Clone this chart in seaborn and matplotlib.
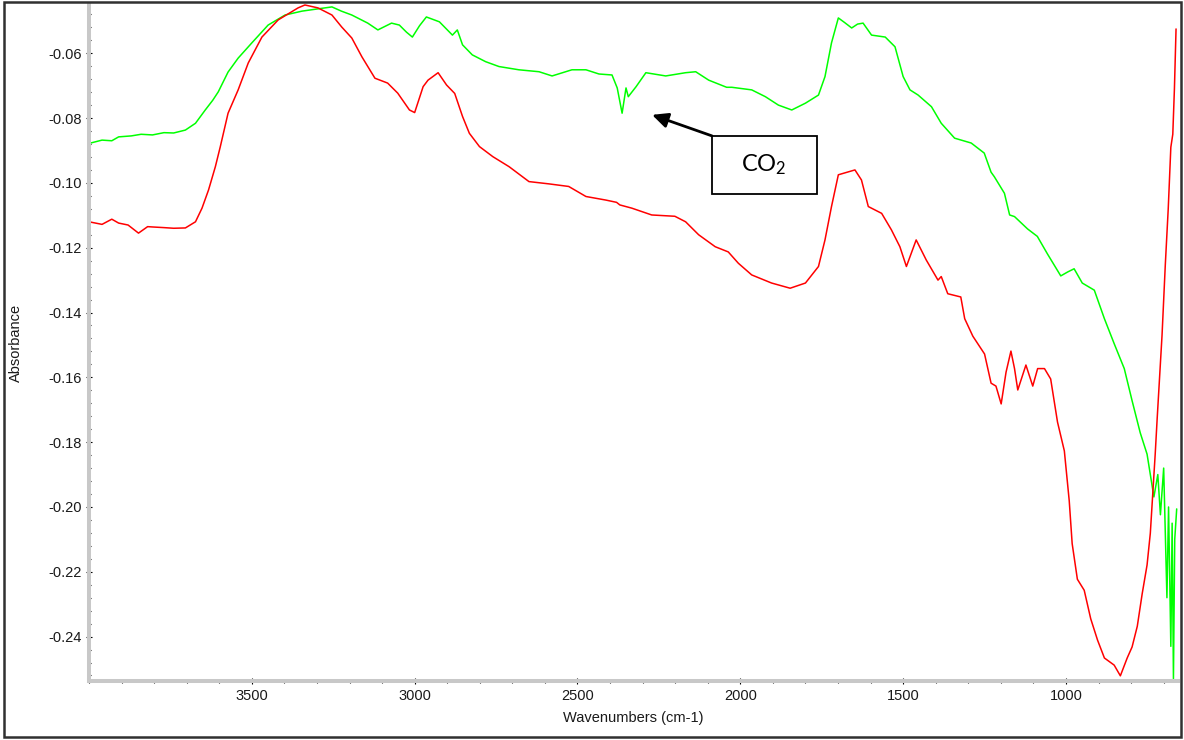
import matplotlib
matplotlib.use("Agg")
import matplotlib.pyplot as plt
import seaborn as sns
from matplotlib.ticker import FixedLocator, MultipleLocator, FormatStrFormatter
from matplotlib.patches import Rectangle

# ---------------- data ----------------
green_wn = [3995, 3960, 3930, 3909, 3870, 3840, 3805, 3770, 3740, 3704, 3673, 3643,
            3620, 3603, 3573, 3542, 3500, 3450, 3398, 3346, 3297, 3254, 3225, 3193,
            3144, 3113, 3071, 3047, 3025, 3007, 2985, 2964, 2924, 2884, 2869, 2853,
            2823, 2782, 2741, 2680, 2618, 2578, 2517, 2474, 2434, 2394, 2378, 2363,
            2351, 2344, 2320, 2290, 2229, 2168, 2137, 2097, 2042, 2026, 1965, 1923,
            1883, 1842, 1800, 1760, 1740, 1720, 1699, 1680, 1658, 1640, 1623, 1597,
            1555, 1525, 1500, 1479, 1454, 1413, 1383, 1342, 1291, 1251, 1230, 1220,
            1189, 1173, 1158, 1118, 1088, 1057, 1016, 995, 975, 950, 913, 882, 852,
            821, 797, 772, 751, 730, 718, 710, 700, 695, 690, 685, 678, 674, 670,
            666, 660]
green_abs = [-0.0877, -0.0868, -0.0870, -0.0858, -0.0855, -0.0850, -0.0852, -0.0845,
             -0.0846, -0.0837, -0.0816, -0.0775, -0.0745, -0.0719, -0.0658, -0.0615,
             -0.0568, -0.0513, -0.0482, -0.0470, -0.0463, -0.0457, -0.0470, -0.0482,
             -0.0507, -0.0528, -0.0507, -0.0513, -0.0535, -0.0550, -0.0515, -0.0488,
             -0.0503, -0.0544, -0.0528, -0.0574, -0.0605, -0.0626, -0.0641, -0.0651,
             -0.0657, -0.0670, -0.0651, -0.0651, -0.0664, -0.0667, -0.0707, -0.0785,
             -0.0707, -0.0734, -0.0703, -0.0660, -0.0670, -0.0660, -0.0657, -0.0683,
             -0.0705, -0.0705, -0.0713, -0.0734, -0.0760, -0.0775, -0.0754, -0.0729,
             -0.0672, -0.0568, -0.0491, -0.0505, -0.0522, -0.0510, -0.0507, -0.0544,
             -0.0550, -0.0580, -0.0672, -0.0713, -0.0729, -0.0765, -0.0816, -0.0862,
             -0.0877, -0.0908, -0.0967, -0.0981, -0.1032, -0.1099, -0.1104, -0.1142,
             -0.1165, -0.1219, -0.1287, -0.1275, -0.1265, -0.1309, -0.1331, -0.1419,
             -0.1496, -0.1573, -0.1672, -0.1771, -0.1837, -0.1969, -0.1900, -0.2024,
             -0.1880, -0.2080, -0.2280, -0.2000, -0.2430, -0.2050, -0.2530, -0.2100,
             -0.2006]

red_wn = [3995, 3960, 3930, 3909, 3880, 3848, 3820, 3805, 3770, 3740, 3704, 3673,
          3653, 3633, 3612, 3597, 3573, 3542, 3511, 3469, 3419, 3358, 3337, 3297,
          3254, 3224, 3193, 3162, 3122, 3083, 3052, 3016, 3000, 2974, 2959, 2928,
          2902, 2877, 2853, 2832, 2801, 2760, 2710, 2649, 2588, 2527, 2474, 2413,
          2380, 2370, 2333, 2272, 2201, 2168, 2128, 2077, 2037, 2006, 1965, 1904,
          1847, 1800, 1760, 1740, 1720, 1699, 1648, 1628, 1607, 1566, 1536, 1510,
          1490, 1460, 1429, 1393, 1383, 1363, 1323, 1311, 1286, 1250, 1230, 1215,
          1199, 1184, 1169, 1158, 1148, 1123, 1102, 1087, 1066, 1047, 1026, 1005,
          990, 981, 965, 944, 924, 903, 882, 852, 833, 812, 797, 781, 766, 751, 741,
          726, 720, 705, 695, 686, 678, 672, 667, 662]
red_abs = [-0.1121, -0.1128, -0.1112, -0.1124, -0.1130, -0.1155, -0.1135, -0.1136,
           -0.1138, -0.1140, -0.1139, -0.1120, -0.1078, -0.1022, -0.0950, -0.0889,
           -0.0785, -0.0713, -0.0630, -0.0550, -0.0497, -0.0460, -0.0451, -0.0460,
           -0.0482, -0.0519, -0.0553, -0.0611, -0.0677, -0.0692, -0.0723, -0.0775,
           -0.0783, -0.0703, -0.0683, -0.0660, -0.0698, -0.0724, -0.0795, -0.0847,
           -0.0888, -0.0919, -0.0950, -0.0996, -0.1003, -0.1011, -0.1042, -0.1053,
           -0.1060, -0.1068, -0.1078, -0.1099, -0.1103, -0.1120, -0.1160, -0.1197,
           -0.1213, -0.1248, -0.1284, -0.1309, -0.1325, -0.1309, -0.1258, -0.1176,
           -0.1073, -0.0975, -0.0960, -0.0991, -0.1073, -0.1094, -0.1145, -0.1197,
           -0.1258, -0.1176, -0.1238, -0.1300, -0.1289, -0.1342, -0.1352, -0.1419,
           -0.1473, -0.1528, -0.1618, -0.1627, -0.1682, -0.1584, -0.1519, -0.1573,
           -0.1639, -0.1562, -0.1627, -0.1573, -0.1573, -0.1605, -0.1738, -0.1827,
           -0.1981, -0.2113, -0.2223, -0.2257, -0.2345, -0.2411, -0.2466, -0.2488,
           -0.2521, -0.2466, -0.2432, -0.2368, -0.2268, -0.2179, -0.2081, -0.1837,
           -0.1728, -0.1470, -0.1253, -0.1080, -0.0890, -0.0850, -0.0710, -0.0525]

x_ticks = [3500, 3000, 2500, 2000, 1500, 1000]
y_ticks = [-0.24, -0.22, -0.20, -0.18, -0.16, -0.14, -0.12, -0.10, -0.08, -0.06]
x_label = "Wavenumbers (cm-1)"
y_label = "Absorbance"
note_text = r"$\mathrm{CO_2}$"

# ---------------- style ----------------
sns.set_theme(style="white")
plt.rcParams["font.family"] = ["Liberation Sans", "DejaVu Sans"]
plt.rcParams["axes.unicode_minus"] = False
plt.rcParams["mathtext.fontset"] = "custom"
plt.rcParams["mathtext.rm"] = "Lato"
plt.rcParams["mathtext.it"] = "Lato:italic"
plt.rcParams["mathtext.bf"] = "Lato:bold"

W, H = 1184, 740
fig = plt.figure(figsize=(W / 100, H / 100), dpi=100)
fig.patch.set_facecolor("white")
ax = fig.add_axes([89 / W, 1 - 681 / H, (1178 - 89) / W, (681 - 4) / H])
ax.set_facecolor("white")

sns.lineplot(x=green_wn, y=green_abs, color="#00ff00", lw=1.1,
             estimator=None, sort=False, ax=ax)
sns.lineplot(x=red_wn, y=red_abs, color="#ff0000", lw=1.1,
             estimator=None, sort=False, ax=ax)

ax.set_xlim(4000, 656)
ax.set_ylim(-0.2537, -0.0448)

for s in ["top", "right"]:
    ax.spines[s].set_visible(False)
for s in ["left", "bottom"]:
    ax.spines[s].set_color("#c8c8c8")
    ax.spines[s].set_linewidth(2.9)

ax.xaxis.set_major_locator(FixedLocator(x_ticks))
ax.xaxis.set_minor_locator(MultipleLocator(100))
ax.yaxis.set_major_locator(FixedLocator(y_ticks))
ax.yaxis.set_minor_locator(MultipleLocator(0.004))
ax.yaxis.set_major_formatter(FormatStrFormatter("%.2f"))

ax.tick_params(which="major", direction="inout", length=4.0, width=0.8,
               color="black", labelsize=10.5, labelcolor="#1a1a1a")
ax.tick_params(which="minor", direction="inout", length=2.4, width=0.8,
               color="black")
ax.tick_params(axis="x", which="major", pad=4.0)
ax.tick_params(axis="y", which="major", pad=3.2)
ax.tick_params(which="both", bottom=True, left=True, top=False, right=False)

ax.set_xlabel(x_label, fontsize=10.5, color="#1a1a1a")
ax.set_ylabel(y_label, fontsize=10.5, color="#1a1a1a")
ax.xaxis.set_label_coords(0.5, (681 - 711) / 677)
ax.yaxis.set_label_coords((23 - 89) / 1089, 0.5)

# annotation: arrow + boxed label
ax.annotate("", xy=(2271, -0.0790), xytext=(2087, -0.0855),
            arrowprops=dict(arrowstyle="-|>,head_length=0.95,head_width=0.45",
                            color="black", lw=2.0, shrinkA=0, shrinkB=0,
                            mutation_scale=10))
ax.add_patch(Rectangle((2087, -0.1035), 1766 - 2087, 0.0180, facecolor="white",
                       edgecolor="black", lw=1.3, zorder=5))
ax.text(1927, -0.0945, note_text, ha="center", va="center", fontsize=17,
        color="black", zorder=6)

# figure frame
fig.patches.append(Rectangle((4 / W, 3 / H), (1181 - 4) / W, (738 - 3) / H,
                             transform=fig.transFigure, fill=False,
                             edgecolor="#303030", lw=1.8))

fig.savefig("out.png", dpi=100)
